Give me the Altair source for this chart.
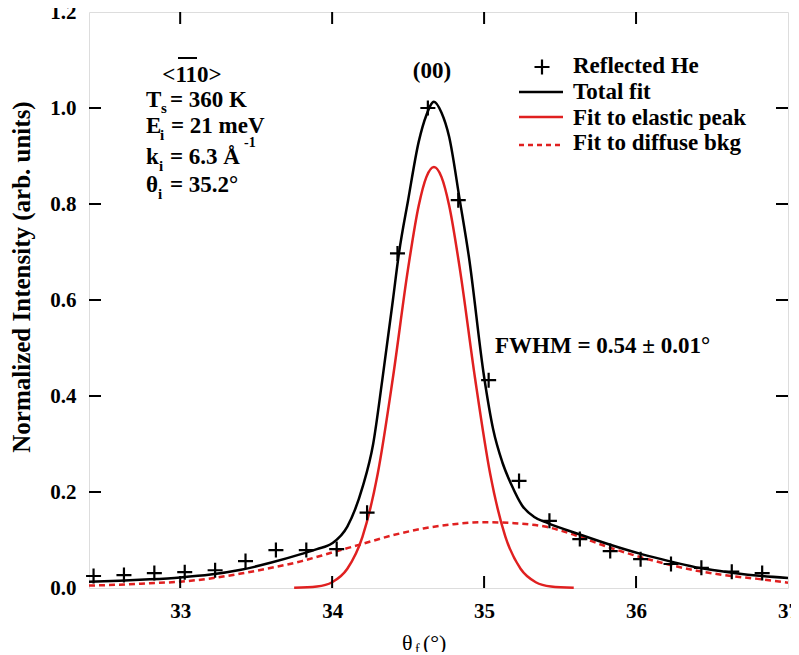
import altair as alt
import pandas as pd

pts_x = [32.43, 32.63, 32.83, 33.03, 33.23, 33.43, 33.63, 33.83, 34.03, 34.23, 34.43, 34.63,
         34.83, 35.03, 35.23, 35.43, 35.63, 35.83, 36.03, 36.23, 36.43, 36.63, 36.83]
pts_y = [0.025, 0.027, 0.031, 0.033, 0.037, 0.056, 0.079, 0.079, 0.081, 0.157, 0.697, 1.000,
         0.808, 0.433, 0.223, 0.140, 0.102, 0.077, 0.060, 0.050, 0.042, 0.034, 0.031]

total_x = [32.4, 32.6, 32.8, 33.0, 33.2, 33.4, 33.6, 33.8, 33.9, 34.0, 34.1, 34.2, 34.27, 34.33,
           34.4, 34.44, 34.5, 34.57, 34.62, 34.67, 34.72, 34.77, 34.84, 34.9, 35.0, 35.06, 35.12,
           35.18, 35.25, 35.33, 35.42, 35.62, 35.83, 36.03, 36.23, 36.43, 36.63, 36.83, 37.0]
total_y = [0.013, 0.015, 0.018, 0.022, 0.028, 0.038, 0.053, 0.071, 0.081, 0.093, 0.128, 0.210, 0.300, 0.433,
           0.600, 0.698, 0.808, 0.930, 0.985, 1.013, 0.990, 0.940, 0.808, 0.690, 0.440, 0.330, 0.262,
           0.215, 0.172, 0.148, 0.135, 0.1125, 0.090, 0.071, 0.055, 0.041, 0.032, 0.025, 0.021]

elastic_x = [33.75, 33.9, 34.0, 34.1, 34.2, 34.3, 34.4, 34.5, 34.57, 34.62, 34.67, 34.72, 34.77,
             34.84, 34.94, 35.04, 35.14, 35.24, 35.34, 35.44, 35.59]
elastic_y = [0.0003, 0.003, 0.012, 0.040, 0.107, 0.238, 0.438, 0.666, 0.797, 0.856, 0.877, 0.856, 0.797,
             0.666, 0.438, 0.238, 0.107, 0.040, 0.012, 0.003, 0.0003]

diffuse_x = [32.4, 32.6, 32.8, 33.0, 33.2, 33.4, 33.6, 33.8, 34.0, 34.2, 34.4, 34.6, 34.8, 35.0,
             35.2, 35.4, 35.6, 35.8, 36.0, 36.2, 36.4, 36.6, 36.8, 37.0]
diffuse_y = [0.005, 0.007, 0.010, 0.013, 0.020, 0.030, 0.042, 0.056, 0.074, 0.092, 0.110, 0.124, 0.133, 0.137,
             0.135, 0.128, 0.110, 0.087, 0.067, 0.050, 0.036, 0.026, 0.019, 0.011]

x_ticks = [33, 34, 35, 36, 37]
y_ticks = [0.0, 0.2, 0.4, 0.6, 0.8, 1.0, 1.2]

FONT = "Liberation Serif"
W, H = 699, 576
RED = "#e02020"

xs = alt.Scale(domain=[32.4, 37], nice=False, zero=False)
ys = alt.Scale(domain=[0, 1.2], nice=False, zero=True)

x_axis = alt.Axis(values=x_ticks, format="d", ticks=False, domain=False, grid=False,
                  labelFont=FONT, labelFontSize=21, labelFontWeight="bold", labelColor="black",
                  labelPadding=12, title=None, labelOverlap=False, labelFlush=False)
y_axis = alt.Axis(values=y_ticks, format=".1f", ticks=False, domain=False, grid=False,
                  labelFont=FONT, labelFontSize=21, labelFontWeight="bold", labelColor="black",
                  labelPadding=13, title=None, labelOverlap=False, labelFlush=False)

def X(field):
    return alt.X(f"{field}:Q", scale=xs, axis=x_axis)

def Y(field):
    return alt.Y(f"{field}:Q", scale=ys, axis=y_axis)

pts = pd.DataFrame({"x": pts_x, "y": pts_y})
tot = pd.DataFrame({"x": total_x, "y": total_y})
ela = pd.DataFrame({"x": elastic_x, "y": elastic_y})
dif = pd.DataFrame({"x": diffuse_x, "y": diffuse_y})
one = pd.DataFrame({"a": [0]})

PLUS = "M-1,0L1,0M0,-1L0,1"

l_diff = alt.Chart(dif).mark_line(color=RED, strokeWidth=2.5, strokeDash=[6, 4], interpolate="monotone").encode(x=X("x"), y=Y("y"))
l_ela = alt.Chart(ela).mark_line(color=RED, strokeWidth=2.5, interpolate="monotone").encode(x=X("x"), y=Y("y"))
l_tot = alt.Chart(tot).mark_line(color="black", strokeWidth=2.5, interpolate="monotone").encode(x=X("x"), y=Y("y"))
l_pts = alt.Chart(pts).mark_point(shape=PLUS, size=225, filled=False, stroke="black", strokeWidth=2.2, opacity=1).encode(x=X("x"), y=Y("y"))

# inward ticks on all four sides
xt = pd.DataFrame({"t": [33, 34, 35, 36]})
yt = pd.DataFrame({"t": [0.2, 0.4, 0.6, 0.8, 1.0]})
TL = 12
t_bot = alt.Chart(xt).mark_rule(color="black", strokeWidth=2).encode(x=X("t"), y=alt.value(H), y2=alt.value(H - TL))
t_top = alt.Chart(xt).mark_rule(color="black", strokeWidth=2).encode(x=X("t"), y=alt.value(0), y2=alt.value(TL))
t_lef = alt.Chart(yt).mark_rule(color="black", strokeWidth=2).encode(y=Y("t"), x=alt.value(0), x2=alt.value(TL))
t_rig = alt.Chart(yt).mark_rule(color="black", strokeWidth=2).encode(y=Y("t"), x=alt.value(W), x2=alt.value(W - TL))

def txt(s, x, y, size=23, weight="bold", align="left", baseline="alphabetic", angle=0):
    kw = dict(text=s, font=FONT, fontSize=size, fontWeight=weight, align=align,
              baseline=baseline, color="black")
    if angle:
        kw["angle"] = angle
    return alt.Chart(one).mark_text(**kw).encode(x=alt.value(x), y=alt.value(y))

def hline(x1, x2, y, color="black", dash=None, width=2.5):
    kw = dict(color=color, strokeWidth=width)
    if dash:
        kw["strokeDash"] = dash
    return alt.Chart(one).mark_rule(**kw).encode(x=alt.value(x1), x2=alt.value(x2), y=alt.value(y))

SUB = 15
annots = [
    txt("<110>", 103, 70, align="center"),
    hline(89, 108, 46, width=2),
    txt("T", 57, 95), txt("s", 72, 101, size=SUB), txt("= 360 K", 81, 95),
    txt("E", 57, 121), txt("i", 71, 128, size=SUB), txt("= 21 meV", 82, 121),
    txt("k", 57, 152), txt("i", 70, 159, size=SUB), txt("= 6.3 Å", 81, 152), txt("-1", 155, 135, size=14),
    txt("θ", 57, 180), txt("i", 69, 187, size=SUB), txt("= 35.2°", 81, 180),
    txt("(00)", 343, 66, align="center"),
    txt("FWHM = 0.54 ± 0.01°", 406, 341),
    # legend
    alt.Chart(one).mark_point(shape=PLUS, size=225, filled=False, stroke="black", strokeWidth=2.2, opacity=1).encode(x=alt.value(453), y=alt.value(55)),
    txt("Reflected He", 484, 61),
    hline(430, 474, 80),
    txt("Total fit", 484, 87),
    hline(430, 474, 105, color=RED),
    txt("Fit to elastic peak", 484, 113),
    hline(430, 474, 133, color=RED, dash=[5, 4]),
    txt("Fit to diffuse bkg", 484, 138),
    # axis titles
    txt("θ", 313, 638, size=22, weight="normal"), txt("f", 326, 642, size=14, weight="normal"),
    txt("(°)", 334, 638, size=22, weight="normal"),
    txt("Normalized Intensity (arb. units)", -67, 265, size=25, align="center", baseline="middle", angle=270),
]

chart = alt.layer(l_diff, l_ela, l_tot, l_pts, t_bot, t_top, t_lef, t_rig, *annots).properties(
    width=W, height=H,
    autosize=alt.AutoSizeParams(type="none"),
    padding={"left": 81, "top": 4, "right": 3, "bottom": 64},
).configure_view(stroke="black", strokeWidth=2.5).configure(background="white")

chart.save("out.html", embed_options={"renderer": "svg", "actions": False})
